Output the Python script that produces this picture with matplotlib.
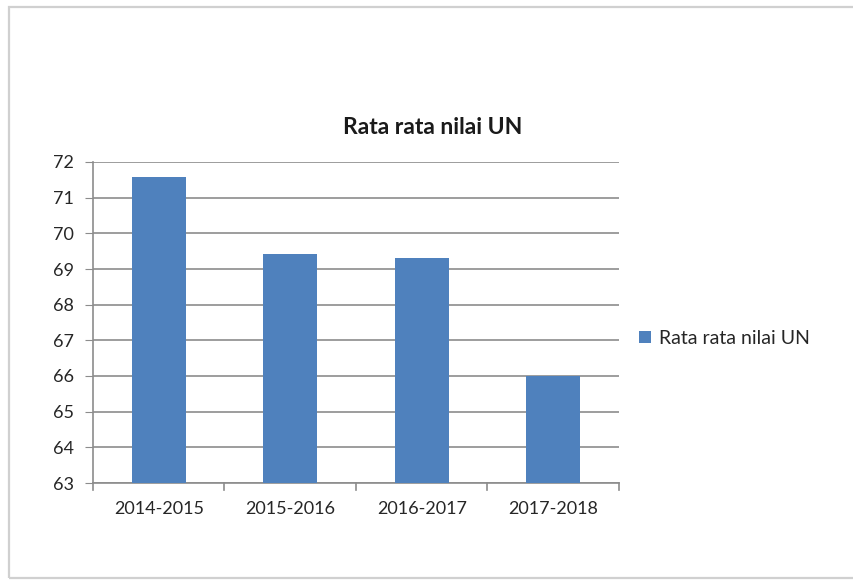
import matplotlib.pyplot as plt
import matplotlib.patches as mpatches

# Data nilai rata-rata UN per tahun ajaran
tahun = ['2014-2015', '2015-2016', '2016-2017', '2017-2018']
nilai = [71.57, 69.42, 69.32, 65.99]
yticks = list(range(63, 73))

plt.rcParams['font.family'] = ['Lato', 'DejaVu Sans']

fig = plt.figure(figsize=(8.54, 5.8), dpi=100)

# Bingkai luar seperti chart Excel
frame = mpatches.Rectangle((9 / 854, 2 / 580), 1.0, 571 / 580, transform=fig.transFigure,
                           fill=False, edgecolor='#d0d0d0', linewidth=1.6, zorder=0)
fig.patches.append(frame)

ax = fig.add_axes([93 / 854, 97 / 580, 526 / 854, 321 / 580])
x = range(len(tahun))
ax.bar(x, nilai, width=0.41, color='#4f81bd', label='Rata rata nilai UN', zorder=3)

ax.set_xlim(-0.5, len(tahun) - 0.5)
ax.set_ylim(63, 72)
ax.set_yticks(yticks)
ax.set_xticks(x)
ax.set_xticklabels(tahun, fontsize=13, color='#262626')
ax.tick_params(axis='y', labelsize=13, labelcolor='#262626', length=6, color='#8c8c8c', pad=8)
ax.tick_params(axis='x', length=0, pad=13)
# tick pemisah kategori pada sumbu x
for b in [-0.5, 0.5, 1.5, 2.5, 3.5]:
    ax.plot([b, b], [63, 62.8], color='#8c8c8c', lw=1.2, clip_on=False, zorder=4)

ax.grid(axis='y', color='#8c8c8c', linewidth=1.2, zorder=0)
for s in ['top', 'right']:
    ax.spines[s].set_visible(False)
ax.spines['left'].set_color('#8c8c8c')
ax.spines['left'].set_linewidth(1.2)
ax.spines['bottom'].set_color('#8c8c8c')
ax.spines['bottom'].set_linewidth(1.2)

# Judul di tengah area chart (bukan di tengah axes)
fig.text(433 / 854, 1 - 127 / 580, 'Rata rata nilai UN', fontsize=16.5, fontweight='bold',
         color='#1a1a1a', ha='center', va='center')

ax.legend(loc='center left', bbox_to_anchor=(1.005, 0.45), frameon=False, fontsize=14,
          handlelength=0.6, handleheight=0.6, handletextpad=0.4, labelcolor='#262626')

fig.savefig('out.png', dpi=100)
